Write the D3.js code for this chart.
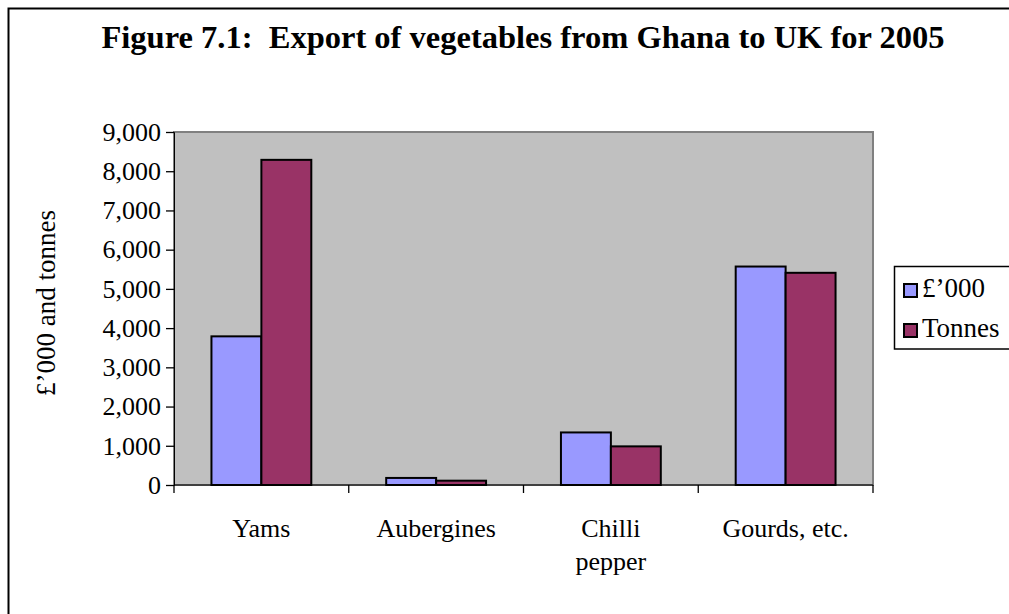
<!DOCTYPE html>
<html>
<head>
<meta charset="utf-8">
<script src="https://cdn.jsdelivr.net/npm/d3@7/dist/d3.min.js"></script>
<style>
  html, body { margin: 0; padding: 0; background: #fff; }
  svg { display: block; font-family: "Liberation Serif", "Times New Roman", serif; }
</style>
</head>
<body>
<svg id="chart" width="1009" height="614"></svg>
<script>
// Export of vegetables from Ghana to the UK, 2005
const categories = ["Yams", "Aubergines", "Chilli pepper", "Gourds, etc."];
const categoryLines = [["Yams"], ["Aubergines"], ["Chilli", "pepper"], ["Gourds, etc."]];
const seriesNames = ["£’000", "Tonnes"];
const valuesThousandPounds = [3790, 180, 1340, 5570];
const valuesTonnes = [8290, 110, 985, 5410];
const yTicks = [0, 1000, 2000, 3000, 4000, 5000, 6000, 7000, 8000, 9000];
const seriesColors = ["#9999FF", "#993366"];

const svg = d3.select("#chart");
const serif = "'Liberation Serif', 'Times New Roman', serif";

// outer frame
svg.append("rect")
  .attr("x", 8.5).attr("y", 8.5)
  .attr("width", 1020).attr("height", 640)
  .attr("fill", "none").attr("stroke", "#000").attr("stroke-width", 2);

// title
svg.append("text")
  .attr("x", 523).attr("y", 47.5)
  .attr("text-anchor", "middle")
  .attr("font-weight", "bold")
  .attr("font-size", 32.5)
  .style("white-space", "pre")
  .text("Figure 7.1:  Export of vegetables from Ghana to UK for 2005");

const plot = { left: 174, top: 132, right: 873, bottom: 485 };

const x = d3.scaleBand().domain(categories).range([plot.left, plot.right]);
// gap width of 150%: two bars + 1.5 bar widths per category
const barW = x.bandwidth() / 3.5;
const xs = d3.scaleBand().domain(seriesNames).range([0.75 * barW, 2.75 * barW]);
const y = d3.scaleLinear().domain([0, 9000]).range([plot.bottom, plot.top]);

// plot area
svg.append("rect")
  .attr("x", plot.left).attr("y", plot.top)
  .attr("width", plot.right - plot.left).attr("height", plot.bottom - plot.top)
  .attr("fill", "#C0C0C0").attr("stroke", "#808080").attr("stroke-width", 2);

// bars
const data = categories.map((c, i) => ({
  cat: c,
  vals: [
    { s: seriesNames[0], v: valuesThousandPounds[i], color: seriesColors[0] },
    { s: seriesNames[1], v: valuesTonnes[i], color: seriesColors[1] }
  ]
}));

const groups = svg.append("g").selectAll("g").data(data).join("g")
  .attr("transform", d => `translate(${x(d.cat)},0)`);
groups.selectAll("rect").data(d => d.vals).join("rect")
  .attr("x", d => xs(d.s))
  .attr("y", d => y(d.v))
  .attr("width", xs.bandwidth())
  .attr("height", d => y(0) - y(d.v))
  .attr("fill", d => d.color)
  .attr("stroke", "#000").attr("stroke-width", 2);

// y axis
const yAxis = svg.append("g")
  .attr("transform", `translate(${plot.left},0)`)
  .call(d3.axisLeft(y).tickValues(yTicks).tickFormat(d3.format(",")).tickSize(8).tickPadding(5));
yAxis.select(".domain").attr("stroke", "#000").attr("stroke-width", 1);
yAxis.selectAll(".tick line").attr("stroke", "#000").attr("stroke-width", 1.3);
yAxis.selectAll(".tick text").attr("font-size", 26).attr("fill", "#000")
  .attr("font-family", serif);

// x axis line and category boundary ticks
const xAxisG = svg.append("g");
xAxisG.append("line")
  .attr("x1", plot.left).attr("x2", plot.right)
  .attr("y1", plot.bottom).attr("y2", plot.bottom)
  .attr("stroke", "#000").attr("stroke-width", 1);
const boundaries = categories.map(c => x(c)).concat([plot.right]);
xAxisG.selectAll("line.tk").data(boundaries).join("line")
  .attr("class", "tk")
  .attr("x1", d => d).attr("x2", d => d)
  .attr("y1", plot.bottom).attr("y2", plot.bottom + 8)
  .attr("stroke", "#000").attr("stroke-width", 1.3);

// category labels
const labels = xAxisG.selectAll("text").data(categories).join("text")
  .attr("x", d => x(d) + x.bandwidth() / 2)
  .attr("y", 537)
  .attr("text-anchor", "middle")
  .attr("font-size", 26);
labels.each(function(d, i) {
  const t = d3.select(this);
  categoryLines[i].forEach((line, j) => {
    t.append("tspan")
      .attr("x", x(d) + x.bandwidth() / 2)
      .attr("dy", j === 0 ? 0 : 33)
      .text(line);
  });
});

// y axis title
svg.append("text")
  .attr("transform", "translate(55,303) rotate(-90)")
  .attr("text-anchor", "middle")
  .attr("font-size", 27)
  .text("£’000 and tonnes");

// legend
const legend = svg.append("g");
legend.append("rect")
  .attr("x", 894.5).attr("y", 266.5)
  .attr("width", 140).attr("height", 82.5)
  .attr("fill", "#fff").attr("stroke", "#000").attr("stroke-width", 1.5);
const items = legend.selectAll("g").data(seriesNames).join("g")
  .attr("transform", (d, i) => `translate(904,${297 + i * 40})`);
items.append("rect")
  .attr("x", 0).attr("y", -13)
  .attr("width", 13).attr("height", 13)
  .attr("fill", (d, i) => seriesColors[i])
  .attr("stroke", "#000").attr("stroke-width", 2);
items.append("text")
  .attr("x", 18).attr("y", 0)
  .attr("font-size", 27)
  .text(d => d);
</script>
</body>
</html>
